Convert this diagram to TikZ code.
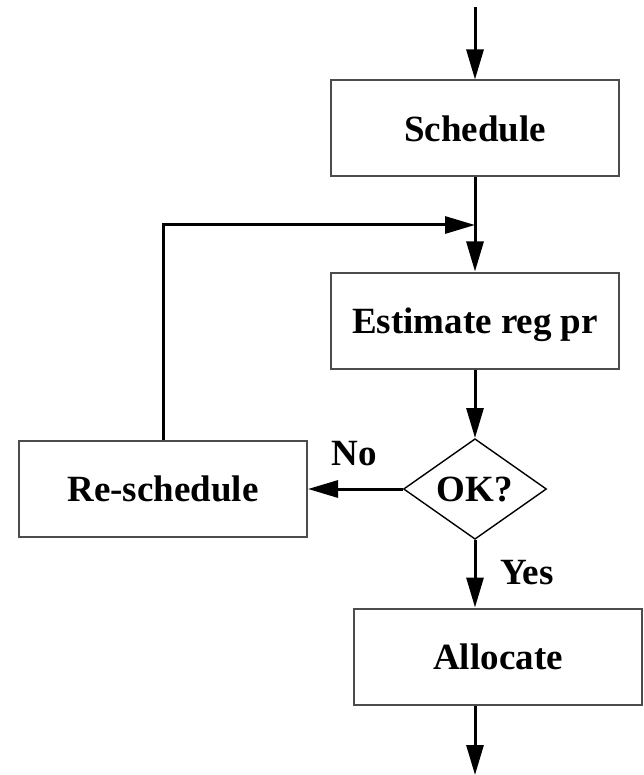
\documentclass[tikz,border=0pt]{standalone}
\usepackage{fontspec}
\setmainfont{Liberation Serif}
\usetikzlibrary{arrows.meta}
\usetikzlibrary{shapes.geometric}

\begin{document}
\begin{tikzpicture}[x=1pt,y=-1pt,
  txt/.style={font=\fontsize{37}{44}\selectfont\bfseries,text depth=0pt},
  box/.style={txt,rectangle,draw=black!70,line width=2pt,minimum width=288pt,minimum height=96pt},
  choice/.style={txt,diamond,draw=black,line width=1.4pt,minimum width=143pt,minimum height=96pt,inner sep=0pt},
  flow/.style={line width=3pt,-{Triangle[length=30pt,width=17pt]}}]
\useasboundingbox (0,0) rectangle (643,775);

\node[box] (sched) at (475,128.5) {Schedule};
\node[box] (est) at (475,320.5) {Estimate reg pr};
\node[choice] (ok) at (475,489) {OK?};
\node[box] (resched) at (163,489) {Re-schedule};
\node[box] (alloc) at (498,656.5) {Allocate};

\node[txt] (no) at (354,453) {No};
\node[txt] (yes) at (527,572) {Yes};

\coordinate (in) at (475,7);
\coordinate (join) at (475,225);
\coordinate (out) at (475,775);

\draw[flow] (in) -- (sched.north);
\draw[flow] (sched.south) -- (est.north);
\draw[flow] (resched.north) |- (join);
\draw[flow] (est.south) -- (ok.north);
\draw[flow] (ok.west) -- (resched.east);
\draw[flow] (ok.south) -- (ok.south |- alloc.north);
\draw[flow] (ok |- alloc.south) -- (out);

\end{tikzpicture}
\end{document}
